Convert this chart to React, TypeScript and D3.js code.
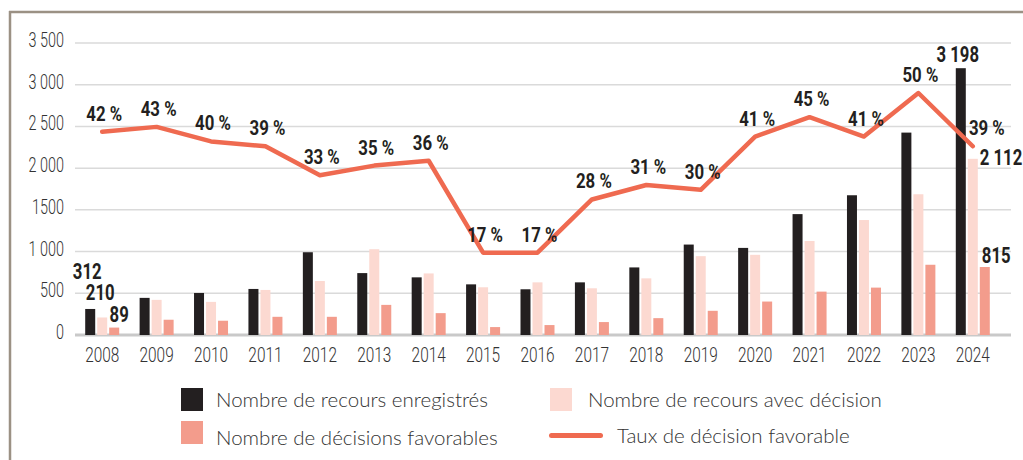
import { useRef, useEffect } from "react";
import * as d3 from "d3";

const years = ["2008", "2009", "2010", "2011", "2012", "2013", "2014", "2015", "2016", "2017", "2018", "2019", "2020", "2021", "2022", "2023", "2024"];
const registered = [312, 445, 504, 552, 992, 742, 691, 607, 548, 631, 810, 1084, 1044, 1449, 1675, 2426, 3198];
const withDecision = [210, 421, 397, 540, 647, 1028, 738, 572, 631, 560, 679, 945, 961, 1127, 1378, 1687, 2112];
const favorable = [89, 183, 171, 218, 218, 361, 262, 95, 119, 155, 202, 290, 401, 520, 568, 842, 815];
const rate = [42, 43, 40, 39, 33, 35, 36, 17, 17, 28, 31, 30, 41, 45, 41, 50, 39];
const yTicks = [0, 500, 1000, 1500, 2000, 2500, 3000, 3500];

const BLACK = "#231f20";
const LIGHT = "#fcd9d1";
const SALMON = "#f39c8c";
const LINE = "#ef6a50";
const FONT = "Roboto, 'Noto Sans', sans-serif";
const LEGEND_FONT = "Lato, 'Open Sans', sans-serif";

// french number format: space as thousands separator (except 1000-1999 in the axis)
const fmt = (v: number) => (v >= 2000 ? d3.format(",")(v).replace(",", " ") : String(v));
const tickFmt = (v: number) => (v === 1000 ? "1 000" : fmt(v));

// the original uses a condensed face, so squeeze the text horizontally
const place = (x: number, y: number, k: number) => `translate(${x},${y}) scale(${k},1)`;

function Chart() {
  const svgRef = useRef<SVGSVGElement>(null);

  useEffect(() => {
    drawChart();
  }, []);

  function drawChart() {
    if (!svgRef.current) return;
    const svg = d3.select(svgRef.current);
    svg.selectAll("*").remove();

    const x = d3.scaleBand().domain(years).range([75, 1000]).padding(0);
    const y = d3.scaleLinear().domain([0, 3500]).range([335, 43]);
    const yRate = d3.scaleLinear().domain([0, 50]).range([335, 93]);
    const cx = (i: number) => (x(years[i]) as number) + x.bandwidth() / 2;

    // frame
    svg.append("line").attr("x1", 9).attr("x2", 1023).attr("y1", 12).attr("y2", 12)
      .attr("stroke", "#9b9184").attr("stroke-width", 2.5);
    svg.append("line").attr("x1", 10).attr("x2", 10).attr("y1", 11).attr("y2", 460)
      .attr("stroke", "#9b9184").attr("stroke-width", 2.5);

    // grid
    svg.append("g").selectAll("line").data(yTicks).join("line")
      .attr("x1", 75).attr("x2", 1011)
      .attr("y1", (d) => y(d)).attr("y2", (d) => y(d))
      .attr("stroke", (d) => (d === 0 ? "#c9c9c9" : "#dadada"))
      .attr("stroke-width", (d) => (d === 0 ? 3 : 1.5));

    svg.append("g").selectAll("text").data(yTicks).join("text")
      .attr("transform", (d) => place(64, y(d) + 4, 0.72))
      .attr("text-anchor", "end")
      .attr("font-family", FONT).attr("font-size", 20).attr("font-weight", 300).attr("fill", "#333")
      .text((d) => tickFmt(d));

    // bars
    const series = [
      { values: registered, color: BLACK, off: -17 },
      { values: withDecision, color: LIGHT, off: -5 },
      { values: favorable, color: SALMON, off: 7 },
    ];
    series.forEach((s) => {
      svg.append("g").selectAll("rect").data(s.values).join("rect")
        .attr("x", (_d, i) => cx(i) + s.off)
        .attr("width", 10)
        .attr("y", (d) => y(d))
        .attr("height", (d) => y(0) - y(d))
        .attr("fill", s.color);
    });

    // year labels
    svg.append("g").selectAll("text").data(years).join("text")
      .attr("transform", (_d, i) => place(cx(i), 362, 0.77))
      .attr("text-anchor", "middle")
      .attr("font-family", FONT).attr("font-size", 20).attr("font-weight", 300).attr("fill", "#333")
      .text((d) => d);

    // rate line
    const line = d3.line<number>()
      .x((_d, i) => cx(i))
      .y((d) => yRate(d));
    svg.append("path").datum(rate)
      .attr("d", line)
      .attr("fill", "none").attr("stroke", LINE).attr("stroke-width", 4.5)
      .attr("stroke-linecap", "round").attr("stroke-linejoin", "round");

    svg.append("g").selectAll("text").data(rate).join("text")
      .attr("transform", (d, i) => place(cx(i) + (i === rate.length - 1 ? 14 : 2), yRate(d) - 11, 0.8))
      .attr("text-anchor", "middle")
      .attr("font-family", FONT).attr("font-size", 21).attr("font-weight", "bold").attr("fill", BLACK)
      .text((d) => `${d} %`);

    // value labels for first and last year
    const last = years.length - 1;
    const valueLabels = [
      { v: registered[0], x: cx(0) - 15, y: y(registered[0]) - 30, anchor: "middle" },
      { v: withDecision[0], x: cx(0) - 2, y: y(withDecision[0]) - 17, anchor: "middle" },
      { v: favorable[0], x: cx(0) + 17, y: y(favorable[0]) - 6, anchor: "middle" },
      { v: registered[last], x: cx(last) - 15, y: y(registered[last]) - 6, anchor: "middle" },
      { v: withDecision[last], x: cx(last) + 7, y: y(withDecision[last]) + 6, anchor: "start" },
      { v: favorable[last], x: cx(last) + 9, y: y(favorable[last]) - 4, anchor: "start" },
    ];
    svg.append("g").selectAll("text").data(valueLabels).join("text")
      .attr("transform", (d) => place(d.x, d.y, 0.76))
      .attr("text-anchor", (d) => d.anchor)
      .attr("font-family", FONT).attr("font-size", 22).attr("font-weight", "bold").attr("fill", BLACK)
      .text((d) => fmt(d.v));

    // legend
    const legend = [
      { label: "Nombre de recours enregistrés", color: BLACK, kind: "box", x: 181, y: 388, tx: 35, ty: 19 },
      { label: "Nombre de recours avec décision", color: LIGHT, kind: "box", x: 550, y: 388, tx: 38, ty: 19 },
      { label: "Nombre de décisions favorables", color: SALMON, kind: "box", x: 181, y: 421, tx: 35, ty: 24 },
      { label: "Taux de décision favorable", color: LINE, kind: "line", x: 549, y: 421, tx: 68, ty: 22 },
    ];
    const lg = svg.append("g").selectAll("g").data(legend).join("g")
      .attr("transform", (d) => `translate(${d.x},${d.y})`);
    lg.filter((d) => d.kind === "box").append("rect")
      .attr("width", 22).attr("height", 23).attr("fill", (d) => d.color);
    lg.filter((d) => d.kind === "line").append("line")
      .attr("x1", 2.5).attr("x2", 51.5).attr("y1", 14.5).attr("y2", 14.5)
      .attr("stroke", (d) => d.color).attr("stroke-width", 5).attr("stroke-linecap", "round");
    lg.append("text")
      .attr("x", (d) => d.tx).attr("y", (d) => d.ty)
      .attr("font-family", LEGEND_FONT).attr("font-size", 20.5).attr("font-weight", 300).attr("fill", "#333")
      .text((d) => d.label);
  }

  return (
    <svg
      ref={svgRef}
      width={1023}
      height={460}
      style={{ position: "absolute", left: 0, top: 0, display: "block", background: "#fff" }}
    />
  );
}

export default function App() {
  return <Chart />;
}
